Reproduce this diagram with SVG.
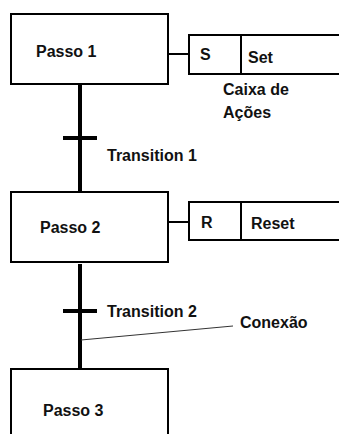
<svg xmlns="http://www.w3.org/2000/svg" width="339" height="434" viewBox="0 0 339 434">
<style>
.box{fill:#fff;stroke:#000;stroke-width:2}
.t{font-family:"Liberation Sans",Arial,sans-serif;font-weight:bold;font-size:16px;fill:#111}
.rail{stroke:#000;stroke-width:4;fill:none}
.thin{stroke:#000;stroke-width:2;fill:none}
</style>
<rect width="339" height="434" fill="#fff"/>
<g id="connectors">
<line class="rail" x1="80" y1="84" x2="80" y2="192"/>
<line class="rail" x1="63" y1="138" x2="97" y2="138"/>
<line class="rail" x1="80" y1="264" x2="80" y2="369"/>
<line class="rail" x1="63" y1="311" x2="97" y2="311"/>
<line class="thin" x1="168" y1="54" x2="189" y2="54"/>
<line class="thin" x1="168" y1="222" x2="189" y2="222"/>
<line x1="81" y1="340" x2="233" y2="326" stroke="#333" stroke-width="1"/>
</g>
<g id="passo1">
<rect class="box" x="11" y="14" width="157" height="70"/>
<text class="t" x="36" y="57">Passo 1</text>
</g>
<g id="acao1">
<rect class="box" x="189" y="35" width="152" height="39"/>
<line class="thin" x1="241" y1="35" x2="241" y2="74"/>
<text class="t" x="200" y="60">S</text>
<text class="t" x="248" y="63">Set</text>
<text class="t" x="223" y="95">Caixa de</text>
<text class="t" x="223" y="118">Ações</text>
</g>
<g id="transition1">
<text class="t" x="107" y="161">Transition 1</text>
</g>
<g id="passo2">
<rect class="box" x="11" y="192" width="157" height="70"/>
<text class="t" x="40" y="233">Passo 2</text>
</g>
<g id="acao2">
<rect class="box" x="189" y="202" width="152" height="38"/>
<line class="thin" x1="241" y1="202" x2="241" y2="240"/>
<text class="t" x="201" y="228">R</text>
<text class="t" x="251" y="229">Reset</text>
</g>
<g id="transition2">
<text class="t" x="107" y="317">Transition 2</text>
</g>
<g id="conexao">
<text class="t" x="240" y="328">Conexão</text>
</g>
<g id="passo3">
<rect class="box" x="11" y="369" width="157" height="70"/>
<text class="t" x="43" y="416">Passo 3</text>
</g>
</svg>
